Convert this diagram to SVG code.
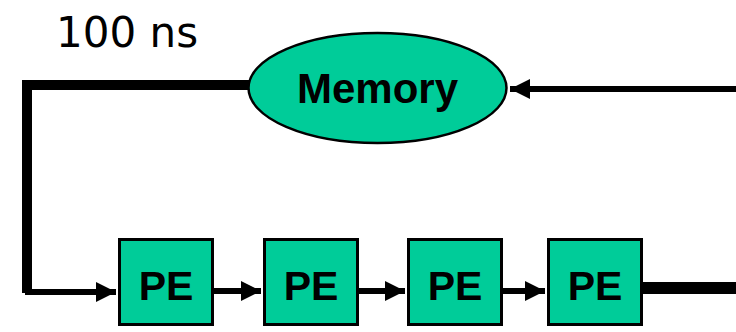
<svg xmlns="http://www.w3.org/2000/svg" width="736" height="332" viewBox="0 0 736 332">
  <defs>
    <style>
      .node { fill: #00CC99; stroke: #000; stroke-width: 3; }
      .label { font-family: "Liberation Sans", Arial, sans-serif; font-weight: bold; fill: #000; text-anchor: middle; }
      .thick { fill: none; stroke: #000; stroke-width: 10; }
      .link { fill: none; stroke: #000; stroke-width: 6; }
    </style>
    <marker id="head" viewBox="0 0 10 10" refX="10" refY="5" markerWidth="20" markerHeight="20" markerUnits="userSpaceOnUse" orient="auto">
      <path d="M0,0 L10,5 L0,10 z" fill="#000"/>
    </marker>
  </defs>

  <text x="56" y="47" font-family="'Comic Sans MS', 'DejaVu Sans', sans-serif" font-size="42" fill="#000">100 ns</text>

  <g id="connectors">
    <!-- memory output loops down the left side into the first PE -->
    <path class="thick" d="M250,85 H27 V293"/>
    <path class="link" d="M25,292 H116" marker-end="url(#head)"/>
    <!-- PE chain -->
    <path class="link" d="M213,291 H261" marker-end="url(#head)"/>
    <path class="link" d="M358,291 H405" marker-end="url(#head)"/>
    <path class="link" d="M502,291 H545" marker-end="url(#head)"/>
    <!-- last PE output and return path to memory -->
    <path class="thick" d="M642,288 H736" style="stroke-width:12"/>
    <path class="link" d="M736,89 H510" marker-end="url(#head)"/>
  </g>

  <g id="memory">
    <ellipse class="node" cx="377.5" cy="88" rx="129" ry="55" style="stroke-width:2.5"/>
    <text class="label" x="377.5" y="103" font-size="42">Memory</text>
  </g>

  <g id="pe1">
    <rect class="node" x="119.5" y="239.5" width="93" height="85"/>
    <text class="label" x="166" y="300" font-size="41">PE</text>
  </g>
  <g id="pe2">
    <rect class="node" x="264.5" y="239.5" width="93" height="85"/>
    <text class="label" x="311" y="300" font-size="41">PE</text>
  </g>
  <g id="pe3">
    <rect class="node" x="408.5" y="239.5" width="93" height="85"/>
    <text class="label" x="455" y="300" font-size="41">PE</text>
  </g>
  <g id="pe4">
    <rect class="node" x="548.5" y="239.5" width="93" height="85"/>
    <text class="label" x="595" y="300" font-size="41">PE</text>
  </g>
</svg>
